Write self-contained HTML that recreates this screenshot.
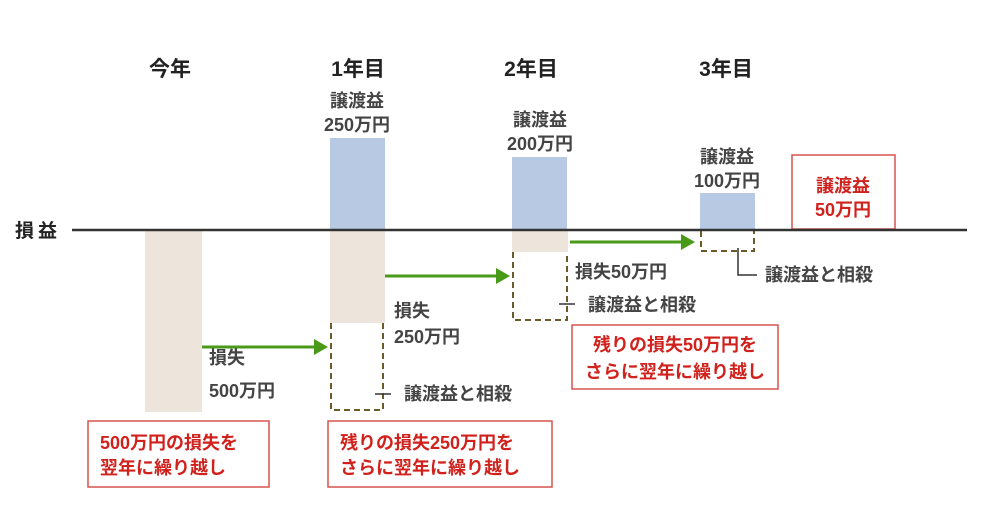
<!DOCTYPE html>
<html><head><meta charset="utf-8"><style>
body{margin:0;background:#fff}
svg{display:block}
text{font-family:"Liberation Sans","Noto Sans CJK JP",sans-serif;font-weight:bold}
.g{fill:#444;font-size:18px}
.h{fill:#222;font-size:21px}
.r{fill:#d0211c;font-size:18px}
</style></head><body>
<svg width="1000" height="526" viewBox="0 0 1000 526">
<rect x="145" y="231" width="57" height="181" fill="#ede5db"/>
<rect x="330" y="138" width="55" height="92" fill="#b8cae3"/>
<rect x="330" y="231" width="55" height="92" fill="#ede5db"/>
<rect x="512" y="157" width="55" height="73" fill="#b8cae3"/>
<rect x="512" y="231" width="56" height="21" fill="#ede5db"/>
<rect x="700" y="193" width="55" height="37" fill="#b8cae3"/>
<g fill="none" stroke="#6b5a2a" stroke-width="2" stroke-dasharray="6,4">
<path d="M331 323 V410 H383 V323"/>
<path d="M513 252 V320 H567 V252"/>
<path d="M701 231 V251 H754 V231"/>
</g>
<g stroke="#4a9a1a" stroke-width="3" fill="#4a9a1a">
<line x1="202" y1="347" x2="316" y2="347"/><polygon points="314,339 328,347 314,355" stroke="none"/>
<line x1="385" y1="276" x2="498" y2="276"/><polygon points="496,268 510,276 496,284" stroke="none"/>
<line x1="570" y1="242" x2="683" y2="242"/><polygon points="681,234 695,242 681,250" stroke="none"/>
</g>
<g stroke="#333" stroke-width="1.5" fill="none">
<line x1="375" y1="394" x2="391" y2="394"/>
<line x1="559" y1="304" x2="575" y2="304"/>
<path d="M738 248 V275 H757"/>
</g>
<g fill="#fff" stroke="#d9534f" stroke-width="1.5">
<rect x="88" y="421" width="181" height="66"/>
<rect x="328" y="421" width="224" height="66"/>
<rect x="572" y="325" width="206" height="64"/>
<rect x="792" y="155" width="103" height="74"/>
</g>
<line x1="72" y1="230" x2="967" y2="230" stroke="#333" stroke-width="2.5"/>
<text class="h" x="170" y="76" text-anchor="middle">今年</text>
<text class="h" x="358" y="76" text-anchor="middle">1年目</text>
<text class="h" x="531" y="76" text-anchor="middle">2年目</text>
<text class="h" x="726" y="76" text-anchor="middle">3年目</text>
<text class="h" x="15" y="237" style="font-size:19px;letter-spacing:4px">損益</text>
<g class="g">
<text x="357" y="107" text-anchor="middle">譲渡益</text>
<text x="357" y="131" text-anchor="middle">250万円</text>
<text x="540" y="126" text-anchor="middle">譲渡益</text>
<text x="540" y="150" text-anchor="middle">200万円</text>
<text x="727" y="163" text-anchor="middle">譲渡益</text>
<text x="727" y="187" text-anchor="middle">100万円</text>
<text x="209" y="364">損失</text>
<text x="209" y="397">500万円</text>
<text x="394" y="317">損失</text>
<text x="394" y="343">250万円</text>
<text x="404" y="400">譲渡益と相殺</text>
<text x="575" y="278">損失50万円</text>
<text x="588" y="311">譲渡益と相殺</text>
<text x="765" y="281">譲渡益と相殺</text>
</g>
<g class="r">
<text x="843" y="192" text-anchor="middle">譲渡益</text>
<text x="843" y="216" text-anchor="middle">50万円</text>
<text x="100" y="449">500万円の損失を</text>
<text x="100" y="474">翌年に繰り越し</text>
<text x="340" y="449">残りの損失250万円を</text>
<text x="340" y="474">さらに翌年に繰り越し</text>
<text x="675" y="351" text-anchor="middle">残りの損失50万円を</text>
<text x="675" y="378" text-anchor="middle">さらに翌年に繰り越し</text>
</g>
</svg>
</body></html>
